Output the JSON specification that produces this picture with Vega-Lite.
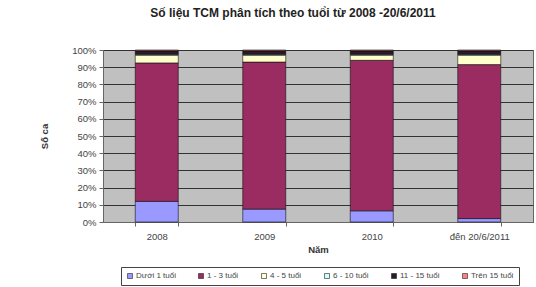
{
  "$schema": "https://vega.github.io/schema/vega-lite/v6.json",
  "width": 430,
  "height": 172,
  "autosize": "none",
  "padding": {"left": 103, "top": 50, "right": 3, "bottom": 65},
  "background": "white",
  "title": {
    "text": "Số liệu TCM phân tích theo tuổi từ 2008 -20/6/2011",
    "font": "Liberation Sans",
    "fontSize": 12,
    "fontWeight": "bold",
    "color": "#222",
    "anchor": "middle",
    "frame": "group",
    "dx": -25,
    "offset": 25
  },
  "data": {
    "values": [
      {"nam": "2008", "nhom": "Dưới 1 tuổi", "k": 1, "v": 12},
      {"nam": "2008", "nhom": "1 - 3 tuổi", "k": 2, "v": 80.5},
      {"nam": "2008", "nhom": "4 - 5 tuổi", "k": 3, "v": 4.5},
      {"nam": "2008", "nhom": "6 - 10 tuổi", "k": 4, "v": 0.5},
      {"nam": "2008", "nhom": "11 - 15 tuổi", "k": 5, "v": 2},
      {"nam": "2008", "nhom": "Trên 15 tuổi", "k": 6, "v": 0.5},
      {"nam": "2009", "nhom": "Dưới 1 tuổi", "k": 1, "v": 7.5},
      {"nam": "2009", "nhom": "1 - 3 tuổi", "k": 2, "v": 85.5},
      {"nam": "2009", "nhom": "4 - 5 tuổi", "k": 3, "v": 4},
      {"nam": "2009", "nhom": "6 - 10 tuổi", "k": 4, "v": 0.5},
      {"nam": "2009", "nhom": "11 - 15 tuổi", "k": 5, "v": 2},
      {"nam": "2009", "nhom": "Trên 15 tuổi", "k": 6, "v": 0.5},
      {"nam": "2010", "nhom": "Dưới 1 tuổi", "k": 1, "v": 6.5},
      {"nam": "2010", "nhom": "1 - 3 tuổi", "k": 2, "v": 87.5},
      {"nam": "2010", "nhom": "4 - 5 tuổi", "k": 3, "v": 3},
      {"nam": "2010", "nhom": "6 - 10 tuổi", "k": 4, "v": 0.5},
      {"nam": "2010", "nhom": "11 - 15 tuổi", "k": 5, "v": 2},
      {"nam": "2010", "nhom": "Trên 15 tuổi", "k": 6, "v": 0.5},
      {"nam": "đến 20/6/2011", "nhom": "Dưới 1 tuổi", "k": 1, "v": 2},
      {"nam": "đến 20/6/2011", "nhom": "1 - 3 tuổi", "k": 2, "v": 89.5},
      {"nam": "đến 20/6/2011", "nhom": "4 - 5 tuổi", "k": 3, "v": 5.5},
      {"nam": "đến 20/6/2011", "nhom": "6 - 10 tuổi", "k": 4, "v": 0.5},
      {"nam": "đến 20/6/2011", "nhom": "11 - 15 tuổi", "k": 5, "v": 2},
      {"nam": "đến 20/6/2011", "nhom": "Trên 15 tuổi", "k": 6, "v": 0.5}
    ]
  },
  "mark": {"type": "bar", "stroke": "#111", "strokeWidth": 0.6},
  "encoding": {
    "x": {
      "field": "nam",
      "type": "nominal",
      "sort": null,
      "title": "Năm",
      "scale": {"paddingInner": 0.6, "paddingOuter": 0.3},
      "axis": {
        "labelAngle": 0,
        "tickBand": "extent",
        "domainColor": "#666",
        "tickColor": "#666",
        "tickSize": 4,
        "labelPadding": 5,
        "titlePadding": 4
      }
    },
    "y": {
      "field": "v",
      "type": "quantitative",
      "stack": "normalize",
      "title": "Số ca",
      "scale": {"domain": [0, 1], "nice": false},
      "axis": {
        "format": ".0%",
        "values": [0, 0.1, 0.2, 0.3, 0.4, 0.5, 0.6, 0.7, 0.8, 0.9, 1],
        "grid": true,
        "gridColor": "#333",
        "gridWidth": 1,
        "domainColor": "#666",
        "tickColor": "#666",
        "tickSize": 4,
        "labelPadding": 3,
        "titlePadding": 22
      }
    },
    "color": {
      "field": "nhom",
      "type": "nominal",
      "title": null,
      "scale": {
        "domain": ["Dưới 1 tuổi", "1 - 3 tuổi", "4 - 5 tuổi", "6 - 10 tuổi", "11 - 15 tuổi", "Trên 15 tuổi"],
        "range": ["#9999FF", "#9B2C62", "#FFFFCC", "#CCFFFF", "#2A1A2A", "#FF8080"]
      },
      "legend": {
        "orient": "none",
        "direction": "horizontal",
        "legendX": 18,
        "legendY": 217,
        "columns": 6,
        "symbolType": "square",
        "symbolSize": 25,
        "symbolStrokeColor": "#222",
        "symbolStrokeWidth": 0.6,
        "labelFontSize": 8,
        "labelFont": "Liberation Sans",
        "labelColor": "#444",
        "labelOffset": 2,
        "columnPadding": 21,
        "padding": 5,
        "strokeColor": "#444",
        "fillColor": "white"
      }
    },
    "order": {"field": "k", "type": "quantitative"}
  },
  "config": {
    "view": {"fill": "#C0C0C0", "stroke": "#666", "strokeWidth": 1},
    "axis": {
      "labelFont": "Liberation Sans",
      "labelFontSize": 9.5,
      "labelColor": "#444",
      "titleFont": "Liberation Sans",
      "titleFontSize": 9.5,
      "titleFontWeight": "bold",
      "titleColor": "#333"
    }
  }
}
